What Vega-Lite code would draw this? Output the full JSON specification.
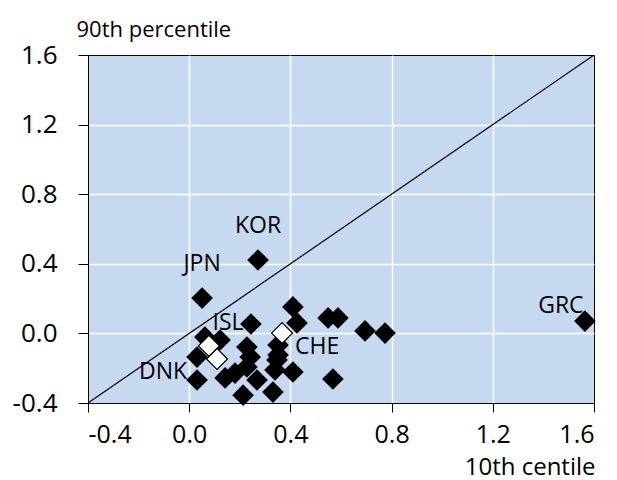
{
  "$schema": "https://vega.github.io/schema/vega-lite/v6.json",
  "width": 506,
  "height": 348,
  "autosize": {"type": "none"},
  "padding": {"left": 88, "top": 55, "right": 23, "bottom": 77},
  "background": "white",
  "config": {
    "view": {"fill": "#c6d9f1", "stroke": "#000000", "strokeWidth": 1},
    "font": "Open Sans",
    "axis": {
      "labelFont": "Open Sans",
      "titleFont": "Open Sans",
      "labelColor": "#000000",
      "titleColor": "#000000",
      "titleFontWeight": "normal",
      "domainColor": "#000000",
      "tickColor": "#000000",
      "gridColor": "#ffffff",
      "gridWidth": 1.5
    }
  },
  "datasets": {
    "points": [
      {"p10": 1.564, "p90": 0.071, "country": "GRC", "kind": "country"},
      {"p10": 0.272, "p90": 0.422, "country": "KOR", "kind": "country"},
      {"p10": 0.051, "p90": 0.203, "country": "JPN", "kind": "country"},
      {"p10": 0.41, "p90": 0.152, "country": "", "kind": "country"},
      {"p10": 0.426, "p90": 0.06, "country": "", "kind": "country"},
      {"p10": 0.549, "p90": 0.089, "country": "", "kind": "country"},
      {"p10": 0.588, "p90": 0.089, "country": "", "kind": "country"},
      {"p10": 0.695, "p90": 0.014, "country": "", "kind": "country"},
      {"p10": 0.774, "p90": 0.002, "country": "", "kind": "country"},
      {"p10": 0.244, "p90": 0.054, "country": "", "kind": "country"},
      {"p10": 0.351, "p90": -0.067, "country": "", "kind": "country"},
      {"p10": 0.062, "p90": -0.021, "country": "", "kind": "country"},
      {"p10": 0.122, "p90": -0.038, "country": "ISL", "kind": "country"},
      {"p10": 0.031, "p90": -0.136, "country": "", "kind": "country"},
      {"p10": 0.031, "p90": -0.268, "country": "DNK", "kind": "country"},
      {"p10": 0.228, "p90": -0.078, "country": "", "kind": "country"},
      {"p10": 0.347, "p90": -0.153, "country": "", "kind": "country"},
      {"p10": 0.41, "p90": -0.222, "country": "", "kind": "country"},
      {"p10": 0.568, "p90": -0.262, "country": "", "kind": "country"},
      {"p10": 0.142, "p90": -0.256, "country": "", "kind": "country"},
      {"p10": 0.181, "p90": -0.228, "country": "", "kind": "country"},
      {"p10": 0.228, "p90": -0.193, "country": "", "kind": "country"},
      {"p10": 0.241, "p90": -0.136, "country": "", "kind": "country"},
      {"p10": 0.268, "p90": -0.268, "country": "", "kind": "country"},
      {"p10": 0.213, "p90": -0.355, "country": "", "kind": "country"},
      {"p10": 0.331, "p90": -0.337, "country": "", "kind": "country"},
      {"p10": 0.339, "p90": -0.21, "country": "", "kind": "country"},
      {"p10": 0.351, "p90": -0.124, "country": "", "kind": "country"},
      {"p10": 0.367, "p90": 0.002, "country": "CHE", "kind": "average"},
      {"p10": 0.078, "p90": -0.072, "country": "", "kind": "average"},
      {"p10": 0.11, "p90": -0.147, "country": "", "kind": "average"}
    ],
    "diagonal": [
      {"p10": -0.4, "p90": -0.4},
      {"p10": 1.6, "p90": 1.6}
    ]
  },
  "encoding": {
    "x": {
      "field": "p10", "type": "quantitative",
      "scale": {"domain": [-0.4, 1.6], "nice": false, "zero": false},
      "axis": {
        "values": [-0.4, 0, 0.4, 0.8, 1.2, 1.6],
        "labelExpr": "datum.value < 0 ? '-' + format(-datum.value, '.1f') : format(datum.value, '.1f')",
        "labelFontSize": 25,
        "labelPadding": 10,
        "tickSize": 9,
        "grid": true,
        "gridOpacity": {"condition": {"test": "datum.value < -0.3 || datum.value > 1.5", "value": 0}, "value": 1},
        "title": "10th centile",
        "titleFontSize": 24,
        "titleAlign": "right",
        "titleAnchor": "end",
        "titleBaseline": "alphabetic",
        "titleX": 507,
        "titleY": 71
      }
    },
    "y": {
      "field": "p90", "type": "quantitative",
      "scale": {"domain": [-0.4, 1.6], "nice": false, "zero": false},
      "axis": {
        "values": [-0.4, 0, 0.4, 0.8, 1.2, 1.6],
        "labelExpr": "datum.value < 0 ? '-' + format(-datum.value, '.1f') : format(datum.value, '.1f')",
        "labelFontSize": 26,
        "labelPadding": 21,
        "tickSize": 10,
        "grid": true,
        "gridOpacity": {"condition": {"test": "datum.value < -0.3 || datum.value > 1.5", "value": 0}, "value": 1},
        "title": "90th percentile",
        "titleFontSize": 22,
        "titleAngle": 0,
        "titleAlign": "left",
        "titleAnchor": "start",
        "titleBaseline": "alphabetic",
        "titleX": -12,
        "titleY": -19
      }
    }
  },
  "layer": [
    {
      "data": {"name": "diagonal"},
      "mark": {"type": "line", "color": "#000000", "strokeWidth": 1.2, "clip": true},
      "encoding": {}
    },
    {
      "data": {"name": "points"},
      "transform": [{"filter": "datum.kind == 'country'"}],
      "mark": {"type": "point", "shape": "diamond", "size": 470, "filled": true, "fill": "#000000", "opacity": 1, "strokeWidth": 0}
    },
    {
      "data": {"name": "points"},
      "transform": [{"filter": "datum.kind == 'average'"}],
      "mark": {"type": "point", "shape": "diamond", "size": 440, "filled": true, "fill": "#ffffff", "stroke": "#000000", "strokeWidth": 1.2, "opacity": 1}
    },
    {
      "data": {"name": "points"},
      "transform": [{"filter": "datum.country == 'KOR' || datum.country == 'JPN'"}],
      "mark": {"type": "text", "fontSize": 23, "color": "#000000", "align": "center", "baseline": "middle", "dy": -34},
      "encoding": {"text": {"field": "country"}}
    },
    {
      "data": {"name": "points"},
      "transform": [{"filter": "datum.country == 'GRC'"}],
      "mark": {"type": "text", "fontSize": 23, "color": "#000000", "align": "center", "baseline": "middle", "dx": -24, "dy": -15},
      "encoding": {"text": {"field": "country"}}
    },
    {
      "data": {"name": "points"},
      "transform": [{"filter": "datum.country == 'ISL'"}],
      "mark": {"type": "text", "fontSize": 23, "color": "#000000", "align": "center", "baseline": "middle", "dx": 8, "dy": -17},
      "encoding": {"text": {"field": "country"}}
    },
    {
      "data": {"name": "points"},
      "transform": [{"filter": "datum.country == 'CHE'"}],
      "mark": {"type": "text", "fontSize": 23, "color": "#000000", "align": "center", "baseline": "middle", "dx": 35, "dy": 14},
      "encoding": {"text": {"field": "country"}}
    },
    {
      "data": {"name": "points"},
      "transform": [{"filter": "datum.country == 'DNK'"}],
      "mark": {"type": "text", "fontSize": 23, "color": "#000000", "align": "center", "baseline": "middle", "dx": -34, "dy": -8},
      "encoding": {"text": {"field": "country"}}
    }
  ]
}
